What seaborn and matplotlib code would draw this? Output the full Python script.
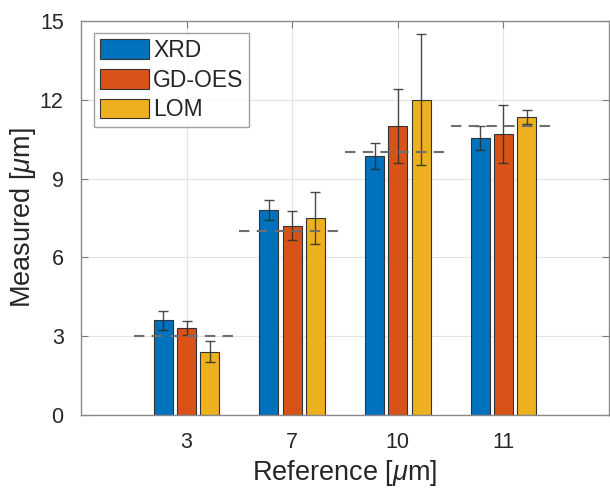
import matplotlib
matplotlib.use("Agg")
import matplotlib.pyplot as plt
import seaborn as sns
import pandas as pd
import numpy as np

# ---- data ----
references = ["3", "7", "10", "11"]
reference_values = [3, 7, 10, 11]
methods = ["XRD", "GD-OES", "LOM"]
xrd = [3.6, 7.8, 9.85, 10.55]
xrd_err = [0.35, 0.38, 0.5, 0.45]
gdoes = [3.3, 7.2, 11.0, 10.7]
gdoes_err = [0.27, 0.55, 1.4, 1.1]
lom = [2.4, 7.5, 12.0, 11.35]
lom_err = [0.4, 1.0, 2.5, 0.28]

values = {"XRD": xrd, "GD-OES": gdoes, "LOM": lom}
errors = {"XRD": xrd_err, "GD-OES": gdoes_err, "LOM": lom_err}
colors = ["#0072BD", "#D95319", "#EDB120"]

rows = []
for m in methods:
    for r, v in zip(references, values[m]):
        rows.append({"Reference": r, "Method": m, "Measured": v})
df = pd.DataFrame(rows)

sns.set_style("ticks")
plt.rcParams["font.family"] = ["Liberation Sans", "DejaVu Sans"]
plt.rcParams["mathtext.fontset"] = "custom"
plt.rcParams["mathtext.it"] = "Liberation Sans:italic"
plt.rcParams["mathtext.rm"] = "Liberation Sans"

W, H = 610, 493
fig = plt.figure(figsize=(W / 100, H / 100), dpi=100)
ax_left, ax_right, ax_top, ax_bottom = 81, 609, 21, 415
ax = fig.add_axes([ax_left / W, 1 - ax_bottom / H, (ax_right - ax_left) / W, (ax_bottom - ax_top) / H])

sns.barplot(data=df, x="Reference", y="Measured", hue="Method", order=references,
            hue_order=methods, palette=colors, width=0.66, gap=0.18, errorbar=None,
            edgecolor="#333333", linewidth=0.8, saturation=1, ax=ax, zorder=2)

# error bars
for cont, m in zip(ax.containers, methods):
    xs = [b.get_x() + b.get_width() / 2 for b in cont]
    ax.errorbar(xs, values[m], yerr=errors[m], fmt="none", ecolor="#2b2b2b",
                elinewidth=1.0, capsize=3.4, capthick=1.0, zorder=4, alpha=0.85)

# reference dashed lines
pos = np.arange(len(references))
ax.hlines(reference_values, pos - 0.5, pos + 0.5, colors="#6e6e6e",
          linestyles=(0, (5, 3.5)), linewidth=1.5, zorder=5)

ax.set_xlim(-1, 4)
ax.set_ylim(0, 15)
ax.set_yticks([0, 3, 6, 9, 12, 15])
ax.grid(True, color="#e3e3e3", linewidth=0.8, zorder=0)
ax.set_axisbelow(True)

tc = "#262626"
ax.set_xlabel(r"Reference [$\mu$m]", fontsize=19.5, color=tc, labelpad=3)
ax.set_ylabel(r"Measured [$\mu$m]", fontsize=19.5, color=tc, labelpad=1)
ax.tick_params(axis="x", pad=12.5)
ax.tick_params(axis="y", pad=12.5)
ax.tick_params(axis="both", direction="in", length=5, width=0.8, color="#7a7a7a",
               labelsize=15.5, labelcolor=tc, top=True, right=True)
for s in ax.spines.values():
    s.set_color("#8a8a8a")
    s.set_linewidth(1.0)
    s.set_visible(True)

axw = ax_right - ax_left
axh = ax_bottom - ax_top
leg = ax.legend(loc="upper left", bbox_to_anchor=((94 - ax_left) / axw, (ax_bottom - 33) / axh),
                borderaxespad=0, fontsize=16.5, frameon=True, fancybox=False,
                handlelength=2.13, handleheight=0.95, handletextpad=0.2,
                labelspacing=0.3, borderpad=0.25, title=None)
leg.get_frame().set_edgecolor("#8a8a8a")
leg.get_frame().set_linewidth(1.0)
for t in leg.get_texts():
    t.set_color(tc)

fig.savefig("out.png", dpi=100)
